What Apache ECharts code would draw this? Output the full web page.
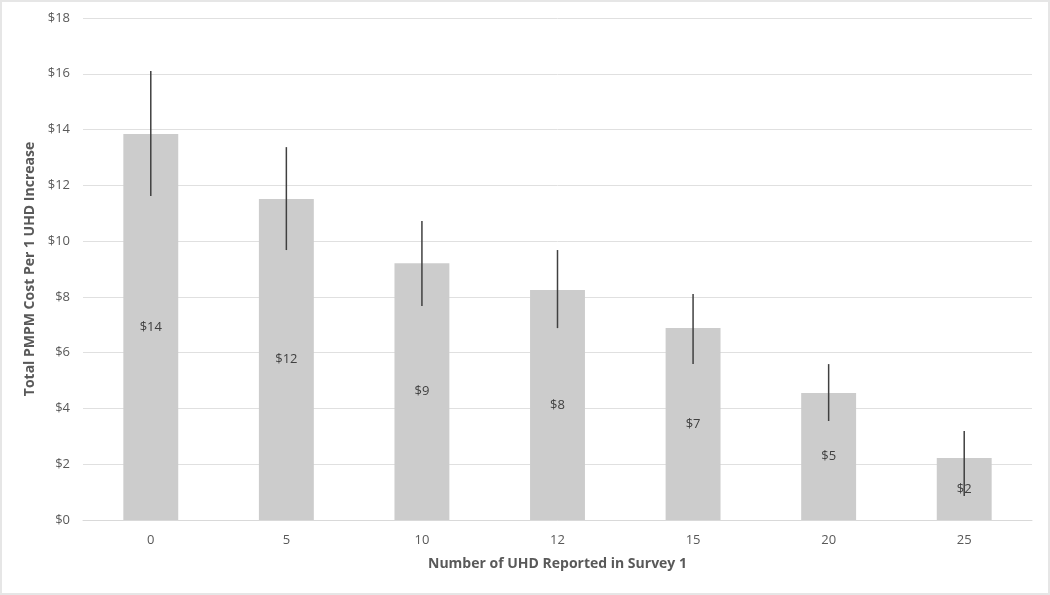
<!DOCTYPE html>
<html>
<head>
<meta charset="utf-8">
<script src="https://cdn.jsdelivr.net/npm/echarts@6/dist/echarts.min.js"></script>
<style>
html,body{margin:0;padding:0;background:#fff;}
#wrap{width:1050px;height:595px;box-sizing:border-box;border:2px solid #e6e6e6;position:relative;}
#chart{position:absolute;left:-2px;top:-2px;width:1050px;height:595px;}
</style>
</head>
<body>
<div id="wrap"><div id="chart"></div></div>
<script>
const categories = ['0', '5', '10', '12', '15', '20', '25'];
const costValues = [13.84, 11.51, 9.21, 8.25, 6.88, 4.55, 2.22];
const errorLow = [11.62, 9.68, 7.67, 6.88, 5.59, 3.55, 0.86];
const errorHigh = [16.10, 13.37, 10.72, 9.68, 8.10, 5.59, 3.19];
const yTicks = [0, 2, 4, 6, 8, 10, 12, 14, 16, 18];

const textColor = '#595959';
const fontFam = '"Open Sans", "Noto Sans", sans-serif';
const chart = echarts.init(document.getElementById('chart'));
const errData = categories.map((c, i) => [i, errorLow[i], errorHigh[i]]);

chart.setOption({
  animation: false,
  grid: { left: 83, right: 18, top: 18, bottom: 75, containLabel: false },
  xAxis: {
    type: 'category',
    data: categories,
    name: 'Number of UHD Reported in Survey 1',
    nameLocation: 'middle',
    nameGap: 37,
    nameTextStyle: { color: textColor, fontSize: 14, fontWeight: 'bold', fontFamily: fontFam },
    axisLine: { show: true, lineStyle: { color: '#d9d9d9', width: 1 } },
    axisTick: { show: false },
    axisLabel: { color: textColor, fontSize: 13, fontFamily: fontFam, margin: 14 }
  },
  yAxis: {
    type: 'value',
    min: yTicks[0],
    max: yTicks[yTicks.length - 1],
    interval: 2,
    name: 'Total PMPM Cost Per 1 UHD Increase',
    nameLocation: 'middle',
    nameGap: 38,
    nameTextStyle: { color: textColor, fontSize: 14, fontWeight: 'bold', fontFamily: fontFam },
    axisLine: { show: false },
    axisTick: { show: false },
    axisLabel: { color: textColor, fontSize: 13, fontFamily: fontFam, margin: 13, formatter: v => '$' + v },
    splitLine: { lineStyle: { color: '#e0e0e0', width: 1 } }
  },
  series: [
    {
      type: 'bar',
      data: costValues,
      barWidth: '40.5%',
      itemStyle: { color: '#cccccc' },
      label: {
        show: true,
        position: 'inside',
        color: '#404040',
        fontSize: 13,
        fontFamily: fontFam,
        formatter: p => '$' + Math.round(p.value)
      }
    },
    {
      type: 'custom',
      data: errData,
      z: 10,
      renderItem: function (params, api) {
        const x = api.value(0);
        const lo = api.coord([x, api.value(1)]);
        const hi = api.coord([x, api.value(2)]);
        return {
          type: 'line',
          shape: { x1: lo[0], y1: lo[1], x2: hi[0], y2: hi[1] },
          style: { stroke: '#404040', lineWidth: 1.5 }
        };
      }
    }
  ]
});
</script>
</body>
</html>
